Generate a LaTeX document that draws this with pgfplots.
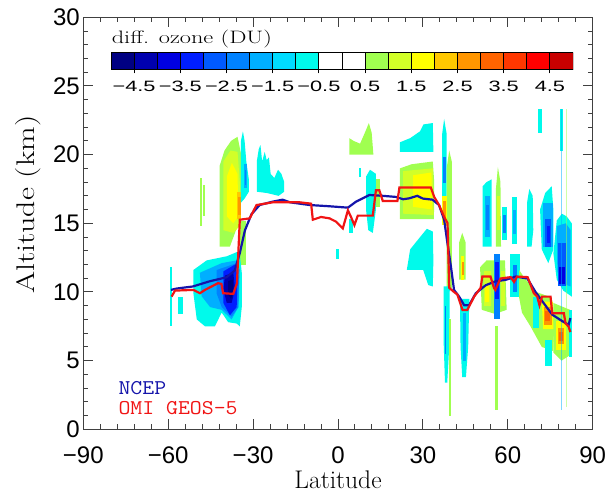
\documentclass[border=0pt]{standalone}
\usepackage{pgfplots}
\pgfplotsset{compat=1.18}
\usepackage{fontspec}
\newfontfamily\tickfont{Liberation Sans}
\definecolor{c1}{RGB}{0,0,130}
\definecolor{c2}{RGB}{0,0,175}
\definecolor{c3}{RGB}{0,0,225}
\definecolor{c4}{RGB}{0,30,255}
\definecolor{c5}{RGB}{0,90,255}
\definecolor{c6}{RGB}{0,130,255}
\definecolor{c7}{RGB}{0,175,255}
\definecolor{c8}{RGB}{0,220,255}
\definecolor{c9}{RGB}{0,250,235}
\definecolor{c12}{RGB}{160,255,80}
\definecolor{c13}{RGB}{210,255,40}
\definecolor{c14}{RGB}{255,255,0}
\definecolor{c15}{RGB}{255,200,0}
\definecolor{c16}{RGB}{255,150,0}
\definecolor{c17}{RGB}{255,100,0}
\definecolor{c18}{RGB}{255,55,0}
\definecolor{c19}{RGB}{255,0,0}
\definecolor{c20}{RGB}{200,0,0}
\definecolor{ncep}{RGB}{20,20,170}
\definecolor{omi}{RGB}{240,20,20}
\newcommand{\rect}[5]{\addplot[fill=#1,draw=none] coordinates {(#2,#3) (#4,#3) (#4,#5) (#2,#5)} -- cycle;}
\newcommand{\poly}[2]{\addplot[fill=#1,draw=none] coordinates {#2} -- cycle;}
\begin{document}
\begin{tikzpicture}
\begin{axis}[name=main, scale only axis, width=509.4pt, height=412pt,
  xmin=-90, xmax=90, ymin=0, ymax=30,
  xtick={-90,-60,-30,0,30,60,90},
  xticklabels={−90,−60,−30,0,30,60,90},
  ytick={0,5,10,15,20,25,30},
  yticklabels={0,5,10,15,20,25,30},
  minor x tick num=4, minor y tick num=4,
  tick align=inside, major tick length=10pt, minor tick length=5pt,
  axis line style={black!75, line width=1.2pt},
  tick style={black!75, line width=1pt},
  ticklabel style={font=\tickfont\fontsize{24}{28}\selectfont},
  xticklabel style={yshift=-14pt},
  xlabel={Latitude}, ylabel={\scalebox{1.25}[1]{Altitude (km)}},
  label style={font=\fontsize{25.5}{30}\selectfont},
  xlabel style={at={(axis description cs:0.5,-0.122)}, anchor=center},
  ylabel style={at={(axis description cs:-0.1086,0.545)}, anchor=center},
]
% ---- southern hemisphere
\poly{c12}{(-41.8,13.3) (-41.8,19.2) (-40.1,20.3) (-37.8,21.0) (-35.5,21.3) (-34.3,20.1) (-34.3,16.0) (-34.7,15.3) (-36.4,14.3) (-38.2,13.3)}
\rect{c12}{-34.7}{12.0}{-32.6}{15.2}
\poly{c13}{(-40.5,14.5) (-40.5,19.5) (-38,20.3) (-35.5,20.2) (-34.7,18) (-34.7,14.8) (-37,14.3)}
\poly{c14}{(-39.3,15.5) (-39.3,18.4) (-37.5,19.4) (-35.5,18.6) (-35.2,15.5) (-37,15)}
\rect{c15}{-35.6}{15.3}{-34.2}{17.3}
\rect{c16}{-35.2}{15.6}{-34.4}{16.9}
\poly{c9}{(-34.3,16.5) (-34.3,21.0) (-33.6,21.7) (-33.0,21.0) (-32.4,19.5) (-31.5,18.2) (-31.5,17.3) (-33,16.8)}
\rect{c7}{-33.3}{17.6}{-32.2}{19.3}
\rect{c6}{-33.0}{17.8}{-32.4}{18.9}
\poly{c9}{(-28.7,17.3) (-28.7,19.5) (-28.0,20.4) (-27.4,20.7) (-26.8,19.5) (-25.9,20.2) (-25.2,19.6) (-24.4,19.8) (-23.8,18.6) (-22.5,18.3) (-21.2,18.9) (-20.0,18.6) (-19.0,18.0) (-19.0,17.3) (-21,17.0) (-25,17.2)}
\rect{c12}{-48.9}{14.8}{-48.2}{18.3}
\rect{c12}{-47.6}{15.5}{-47.0}{17.8}
\poly{c9}{(-51.1,11.6) (-46.4,12.3) (-39.3,12.6) (-35.8,12.9) (-34.7,12.8) (-34.0,11.4) (-34.0,8.9) (-34.7,7.5) (-35.8,7.7) (-38.8,7.8) (-41.1,8.5) (-43.5,7.5) (-47.0,7.5) (-49.9,8.0) (-51.1,9.9)}
\poly{c7}{(-48.8,11.4) (-41.1,12.1) (-35.8,12.3) (-34.7,11.6) (-35.2,8.9) (-37.6,8.0) (-41.1,8.7) (-45.2,8.9) (-48.2,9.7)}
\poly{c6}{(-42.9,11.6) (-35.8,12.1) (-35.0,11.0) (-35.2,8.9) (-37.6,8.2) (-41.1,8.9) (-42.9,9.9)}
\poly{c4}{(-40.5,11.5) (-36.4,12.0) (-35.5,11.2) (-35.8,8.9) (-38.2,8.3) (-40.5,9.2)}
\poly{c2}{(-39.9,11.2) (-37,11.4) (-36.4,10.2) (-37.6,9.2) (-39.3,9.2) (-40.5,10.2)}
\poly{c1}{(-38.8,10.8) (-37.2,10.9) (-37.0,10.0) (-37.8,9.5) (-38.8,9.8)}
\rect{c9}{-56.5}{8.4}{-54.9}{9.6}
\rect{c9}{-59.5}{7.5}{-58.6}{11.8}
% ---- tropics
\poly{c12}{(4.0,20.0) (4.0,21.2) (5.5,21.0) (7.8,20.8) (9.5,21.6) (10.9,22.3) (11.9,21.6) (12.5,20.0)}
\poly{c9}{(9.9,18.4) (11.3,18.9) (13.4,18.6) (13.4,16.0) (12.3,14.3) (10.7,14.5) (9.9,16.0)}
\rect{c12}{13.4}{16.2}{15.0}{18.2}
\rect{c9}{4.0}{14.3}{5.2}{15.3}
\rect{c9}{-0.6}{12.4}{0.3}{13.1}
\rect{c9}{7.3}{18.4}{8.2}{19.0}
\poly{c9}{(21.9,20.2) (21.9,20.9) (25.5,21.2) (29.0,21.7) (30.2,22.2) (33.5,22.3) (33.7,20.2)}
\poly{c12}{(21.9,15.3) (21.9,19.0) (26,19.3) (33.5,19.5) (34.0,18.0) (33.9,15.3)}
\poly{c13}{(23,15.7) (23,18.8) (33.5,19.0) (33.8,15.6)}
\poly{c14}{(26.5,16.2) (26.5,18.5) (33,18.7) (33.3,16.0)}
\poly{c9}{(24.3,11.6) (25.5,13.1) (29,14) (31.4,14.6) (33.5,14.4) (33.7,12.3) (33.5,10.4) (31.9,10.5) (30.1,11.6)}
% ---- northern hemisphere
\poly{c9}{(36.8,16.0) (36.8,21.5) (37.5,22.6) (38.4,21.5) (38.4,16.0)}
\rect{c6}{37.2}{17.9}{38.1}{19.8}
\poly{c12}{(38.4,10.3) (38.4,19.0) (39.3,20.3) (40.2,19.5) (40.2,10.3)}
\rect{c14}{36.9}{14.9}{38.5}{17.0}
\rect{c16}{37.2}{15.2}{38.2}{16.6}
\poly{c9}{(37.3,10.4) (39.5,10.4) (39.3,6.0) (38.6,3.4) (37.8,3.4) (37.3,6.5)}
\rect{c12}{39.1}{1.0}{39.8}{8.0}
\rect{c6}{37.7}{5.5}{38.3}{9.0}
\poly{c12}{(42.8,10.9) (42.8,13.6) (43.9,14.3) (45.1,13.6) (45.1,10.9)}
\rect{c14}{43.6}{10.9}{44.6}{12.6}
\rect{c16}{43.8}{11.2}{44.4}{12.2}
\poly{c9}{(43.1,9.5) (46.4,9.5) (46.0,6.0) (45.2,3.8) (43.9,3.8) (43.3,6.0)}
\rect{c7}{44.0}{5.0}{45.3}{8.5}
\poly{c9}{(51.1,13.3) (51.1,17.7) (52.5,18.0) (54.3,18.2) (54.3,13.3)}
\rect{c7}{51.8}{14.0}{53.8}{17.0}
\rect{c6}{52.2}{14.5}{53.2}{16.3}
\poly{c12}{(55.8,13.3) (55.8,17.5) (56.5,19.1) (57.4,18.0) (57.6,13.3)}
\rect{c13}{56.2}{14.5}{57.2}{17.0}
\rect{c9}{57.8}{13.8}{59.8}{16.2}
\rect{c6}{58.3}{14.3}{59.3}{15.6}
\rect{c9}{61.4}{13.5}{63.2}{16.9}
\rect{c7}{61.8}{14.2}{62.8}{16.0}
\poly{c9}{(66.8,13.3) (66.8,16.5) (67.6,17.5) (68.8,17.0) (69.0,14.5) (68.4,13.3)}
\poly{c12}{(50.2,11.8) (52.5,12.3) (59.0,12.3) (59.6,8.7) (55.5,8.4) (50.8,8.7)}
\rect{c13}{51.5}{9.0}{54.0}{11.5}
\rect{c13}{57.6}{9.0}{59.0}{11.5}
\rect{c14}{52.0}{9.3}{53.5}{10.5}
\rect{c6}{55.2}{8.0}{57.2}{12.8}
\rect{c4}{55.6}{9.5}{56.8}{12.2}
\rect{c9}{60.9}{9.6}{64.4}{12.8}
\rect{c6}{61.8}{10.0}{63.2}{12.0}
\rect{c12}{55.6}{1.4}{56.6}{7.5}
\rect{c9}{70.8}{21.6}{72.0}{23.3}
\rect{c9}{78.6}{20.3}{79.6}{23.3}
\poly{c9}{(71.4,16.0) (73.2,17.2) (75.5,17.7) (76.1,16.0) (76.1,13.1) (74.3,12.1) (72.0,13.1)}
\rect{c7}{72.5}{13.3}{75.8}{16.5}
\rect{c5}{73.3}{13.3}{75.3}{15.3}
\rect{c4}{73.8}{13.6}{74.8}{14.8}
\poly{c9}{(77.3,15.2) (79.1,15.7) (80.8,15.5) (82.6,15.0) (82.6,9.66) (79.6,10.1) (77.3,10.9) (76.1,12.8)}
\poly{c7}{(77.3,14.8) (80.5,15.0) (82.2,14.5) (82.2,10.4) (79.5,10.6) (77.5,11.5)}
\rect{c5}{77.6}{10.4}{80.6}{13.6}
\rect{c3}{78.0}{10.6}{80.2}{11.8}
\poly{c12}{(64.0,11.6) (66.0,11.0) (70,10.0) (75.5,9.6) (76.5,8.0) (76,5.7) (72,6.0) (68,7.5) (65,8.5) (64,9.6)}
\poly{c14}{(72.0,9.3) (76.0,9.3) (76.3,7.3) (72.5,7.3)}
\rect{c16}{72.8}{7.6}{75.5}{8.9}
\rect{c17}{73.3}{7.9}{74.8}{8.6}
\rect{c9}{69.0}{7.4}{71.0}{9.6}
\poly{c12}{(76.1,9.2) (82.0,8.7) (82.0,5.4) (79,5.0) (76.1,5.6)}
\rect{c14}{77.0}{5.8}{80.5}{7.9}
\rect{c16}{77.6}{6.2}{80.0}{7.4}
\rect{c17}{78.0}{6.4}{79.5}{7.1}
\rect{c9}{73.1}{4.6}{75.5}{6.5}
\rect{c9}{81.5}{5.3}{82.6}{8.7}
\addplot[fill=c7, draw=none, opacity=0.5] coordinates {(78.9,1.4) (79.3,1.4) (79.3,23.3) (78.9,23.3)} -- cycle;
\addplot[fill=c12, draw=none, opacity=0.5] coordinates {(80.5,1.6) (80.9,1.6) (80.9,23.3) (80.5,23.3)} -- cycle;
% ---- tropopause lines
\addplot[ncep, line width=2.2pt] coordinates {
(-59,10.15) (-57,10.25) (-51.3,10.4) (-45.3,10.78) (-39.4,11.07) (-36.5,11.56) (-34.7,12.83) (-32.9,14.48) (-30.6,15.65) (-27.7,16.33) (-23,16.58) (-19.6,16.72) (-17,16.53) (-10,16.33) (-3,16.24) (3.5,16.14) (6.4,16.58) (11.1,17.06) (15.8,17.0) (20.5,16.92) (23,16.75) (25.2,16.82) (28,17.0) (30,16.8) (33.4,16.72) (35.7,16.33) (37.5,15.26) (38.7,13.51) (39.9,11.85) (41,10.15) (42.8,9.66) (44.6,9.03) (46.3,9.03) (48.7,9.91) (52.2,10.49) (55.7,10.78) (59.2,10.88) (62.8,11.12) (66.9,10.98) (69.8,10.0) (72.7,9.18) (75.7,8.35) (78.6,7.96) (81.5,7.6) (82.1,8.1)};
\addplot[omi, line width=2.2pt] coordinates {
(-58.8,9.66) (-57.6,10.1) (-51.1,10.15) (-48.8,9.91) (-47,10.15) (-42.4,10.64) (-41.2,10.59) (-40.6,9.91) (-37,9.86) (-35.7,10.64) (-34.7,15.26) (-31.2,15.36) (-28.8,16.33) (-23,16.53) (-13.6,16.53) (-9.5,16.43) (-8.9,15.26) (-6,15.46) (-3,15.36) (-0.7,15.12) (1.7,14.63) (3.5,15.94) (4.6,15.46) (5.8,14.87) (7,15.56) (12.3,15.56) (13.4,17.41) (14.6,17.41) (15.8,16.63) (21,16.63) (21.7,17.6) (32.8,17.6) (34,16.92) (35.7,16.33) (37.5,15.46) (38.7,15.02) (39.3,10.3) (41,10.0) (42.2,9.81) (44,8.69) (45.7,8.69) (48.1,9.66) (50.4,10.3) (51,11.12) (53.9,11.12) (55.1,10.3) (55.6,10.15) (57.4,10.98) (61,11.08) (62.2,10.73) (63.3,11.12) (67,11.08) (69.2,9.91) (70.4,9.66) (71.2,9.03) (72.1,9.66) (75.1,9.66) (75.7,8.45) (79.8,8.45) (80.4,7.72) (81.5,7.47) (82.1,7.08)};
% ---- legend and colour bar title
\node[anchor=base west, inner sep=0, text=ncep, font=\ttfamily\fontsize{21}{24}\selectfont] at (axis cs:-77.6,2.57) {\scalebox{1.1}[1]{NCEP}};
\node[anchor=base west, inner sep=0, text=omi, font=\ttfamily\fontsize{21}{24}\selectfont] at (axis cs:-77.6,1.09) {\scalebox{1.1}[1]{OMI GEOS-5}};
\node[anchor=base west, inner sep=0, font=\fontsize{18}{20}\selectfont] at (axis cs:-80,28.1) {\scalebox{1.35}[1]{diff. ozone (DU)}};
\end{axis}
\begin{axis}[at={(27.7pt,359.3pt)}, anchor=south west, scale only axis, width=462pt, height=17pt,
  xmin=-5, xmax=5, ymin=0, ymax=1,
  axis line style={draw=none}, ytick=\empty,
  xtick={-4.5,-3.5,-2.5,-1.5,-0.5,0.5,1.5,2.5,3.5,4.5},
  xticklabels={\scalebox{1.45}[1]{−4.5},\scalebox{1.45}[1]{−3.5},\scalebox{1.45}[1]{−2.5},\scalebox{1.45}[1]{−1.5},\scalebox{1.45}[1]{−0.5},\scalebox{1.45}[1]{0.5},\scalebox{1.45}[1]{1.5},\scalebox{1.45}[1]{2.5},\scalebox{1.45}[1]{3.5},\scalebox{1.45}[1]{4.5}},
  xtick pos=left, tick align=center, major tick length=7pt,
  tick style={black, line width=1pt},
  xticklabel style={font=\tickfont\fontsize{15}{17}\selectfont, yshift=-4pt},
]
\rect{c1}{-5}{0}{-4.5}{1}
\rect{c2}{-4.5}{0}{-4}{1}
\rect{c3}{-4}{0}{-3.5}{1}
\rect{c4}{-3.5}{0}{-3}{1}
\rect{c5}{-3}{0}{-2.5}{1}
\rect{c6}{-2.5}{0}{-2}{1}
\rect{c7}{-2}{0}{-1.5}{1}
\rect{c8}{-1.5}{0}{-1}{1}
\rect{c9}{-1}{0}{-0.5}{1}
\rect{white}{-0.5}{0}{0}{1}
\rect{white}{0}{0}{0.5}{1}
\rect{c12}{0.5}{0}{1}{1}
\rect{c13}{1}{0}{1.5}{1}
\rect{c14}{1.5}{0}{2}{1}
\rect{c15}{2}{0}{2.5}{1}
\rect{c16}{2.5}{0}{3}{1}
\rect{c17}{3}{0}{3.5}{1}
\rect{c18}{3.5}{0}{4}{1}
\rect{c19}{4}{0}{4.5}{1}
\rect{c20}{4.5}{0}{5}{1}
\pgfplotsinvokeforeach{-5,-4.5,...,5}{\addplot[black, line width=1pt] coordinates {(#1,0) (#1,1)};}
\addplot[black, line width=1pt] coordinates {(-5,0) (5,0) (5,1) (-5,1)} -- cycle;
\end{axis}
\pgfresetboundingbox
\path (-83.3pt,-63.7pt) rectangle (524.7pt,429.3pt);
\end{tikzpicture}
\end{document}
